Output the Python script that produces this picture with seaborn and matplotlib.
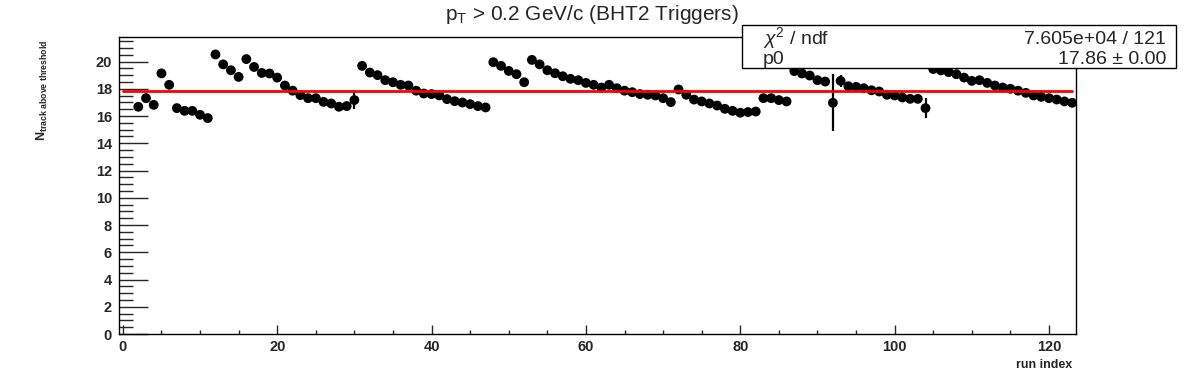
import numpy as np
import pandas as pd
import matplotlib
matplotlib.use('Agg')
import matplotlib.pyplot as plt
import seaborn as sns
from matplotlib.patches import Rectangle
from matplotlib.ticker import MultipleLocator

# 数据：每个 run 的平均值
run_index = list(range(2, 124))
n_track = [
    16.68, 17.31, 16.82, 19.13, 18.29, 16.58, 16.38, 16.38, 16.09, 15.85,   # 2-11
    20.52, 19.79, 19.36, 18.87, 20.18, 19.60, 19.16, 19.12, 18.82, 18.24,   # 12-21
    17.86, 17.53, 17.31, 17.31, 17.04, 16.92, 16.68, 16.73, 17.17, 19.68,   # 22-31
    19.19, 19.00, 18.63, 18.48, 18.29, 18.24, 17.86, 17.65, 17.61, 17.51,   # 32-41
    17.24, 17.09, 16.99, 16.87, 16.73, 16.63, 19.95, 19.68, 19.31, 19.07,   # 42-51
    18.48, 20.12, 19.79, 19.36, 19.14, 18.92, 18.73, 18.63, 18.43, 18.29,   # 52-61
    18.09, 18.29, 18.04, 17.86, 17.75, 17.61, 17.56, 17.51, 17.31, 17.02,   # 62-71
    17.95, 17.56, 17.21, 17.07, 16.92, 16.77, 16.53, 16.38, 16.24, 16.29,   # 72-81
    16.33, 17.31, 17.31, 17.17, 17.07, 19.30, 19.12, 18.97, 18.63, 18.53,   # 82-91
    16.97, 18.58, 18.19, 18.14, 18.04, 17.89, 17.80, 17.56, 17.51, 17.36,   # 92-101
    17.26, 17.26, 16.58, 19.45, 19.35, 19.22, 19.07, 18.82, 18.58, 18.63,   # 102-111
    18.43, 18.24, 18.09, 18.00, 17.86, 17.70, 17.51, 17.41, 17.31, 17.21,   # 112-121
    17.07, 16.97,                                                           # 122-123
]
# 大部分误差很小（被点遮住），只有少数几个可见
n_track_err = [0.05] * len(run_index)
big_errors = {3: 0.37, 30: 0.68, 92: 2.1, 93: 0.45, 104: 0.73}
for r, e in big_errors.items():
    n_track_err[run_index.index(r)] = e

fit_p0 = 17.86
fit_p0_err = 0.00
fit_range = [0, 123]
chi2_text = '7.605e+04 / 121'

df = pd.DataFrame({'run': run_index, 'n': n_track, 'err': n_track_err})
fit_df = pd.DataFrame({'run': fit_range, 'n': [fit_p0, fit_p0]})

sns.set_style('ticks')
plt.rcParams['font.family'] = ['Liberation Sans', 'DejaVu Sans']
plt.rcParams['mathtext.fontset'] = 'custom'
plt.rcParams['mathtext.rm'] = 'Liberation Sans'
plt.rcParams['mathtext.it'] = 'Liberation Sans:italic'
plt.rcParams['mathtext.bf'] = 'Liberation Sans:bold'

fig = plt.figure(figsize=(11.96, 3.72), dpi=100)
ax = fig.add_axes([119 / 1196, 1 - 334 / 372, (1076 - 119) / 1196, (334 - 37) / 372])

ax.errorbar(df['run'], df['n'], yerr=df['err'], fmt='none', ecolor='black',
            elinewidth=1.6, capsize=0, zorder=2)
sns.scatterplot(data=df, x='run', y='n', color='black', s=50, edgecolor='none',
                ax=ax, zorder=3, legend=False)
sns.lineplot(data=fit_df, x='run', y='n', color='#ff0000', linewidth=2.0,
             ax=ax, zorder=4, legend=False)

ax.set_xlim(-0.5, 123.5)
ax.set_ylim(0, 21.8)
ax.xaxis.set_major_locator(MultipleLocator(20))
ax.xaxis.set_minor_locator(MultipleLocator(5))
ax.yaxis.set_major_locator(MultipleLocator(2))
ax.yaxis.set_minor_locator(MultipleLocator(0.5))
ax.tick_params(axis='x', which='major', direction='in', length=6.5, width=1,
               labelsize=10.5, pad=4)
ax.tick_params(axis='x', which='minor', direction='in', length=3.2, width=1)
ax.tick_params(axis='y', which='major', direction='in', length=21, width=1,
               labelsize=10.5, pad=5)
ax.tick_params(axis='y', which='minor', direction='in', length=10, width=1)
for lab in ax.get_xticklabels() + ax.get_yticklabels():
    lab.set_fontweight('bold')
for sp in ax.spines.values():
    sp.set_visible(True)
    sp.set_linewidth(1)
    sp.set_color('black')
ax.set_xlabel('')
ax.set_ylabel('')

# 标题与坐标轴标题（ROOT 风格）
fig.text(592 / 1196, 1 - 15 / 372, r'$\mathrm{p_{T}}$ > 0.2 GeV/c (BHT2 Triggers)',
         ha='center', va='center', fontsize=15)
fig.text(1072 / 1196, 1 - 365 / 372, 'run index', ha='right', va='center',
         fontsize=9, fontweight='bold')
fig.text(42 / 1196, 1 - 90 / 372, r'$\mathbf{N_{track\ above\ threshold}}$',
         ha='center', va='center', rotation=90, fontsize=9)

# 拟合统计框
box = Rectangle((742 / 1196, 1 - 68 / 372), (1176 - 742) / 1196, (68 - 25) / 372,
                transform=fig.transFigure, facecolor='white', edgecolor='black',
                linewidth=1, zorder=10)
fig.add_artist(box)
stat_fs = 14
fig.text(763 / 1196, 1 - 44 / 372, r'$\chi^{2}$ / ndf', ha='left', va='baseline',
         fontsize=stat_fs, zorder=11)
fig.text(1166 / 1196, 1 - 44 / 372, chi2_text, ha='right', va='baseline',
         fontsize=stat_fs, zorder=11)
fig.text(763 / 1196, 1 - 64 / 372, 'p0', ha='left', va='baseline',
         fontsize=stat_fs, zorder=11)
fig.text(1166 / 1196, 1 - 64 / 372, f'{fit_p0:.2f} ± {fit_p0_err:.2f}', ha='right',
         va='baseline', fontsize=stat_fs, zorder=11)

fig.savefig('out.png', dpi=100)
